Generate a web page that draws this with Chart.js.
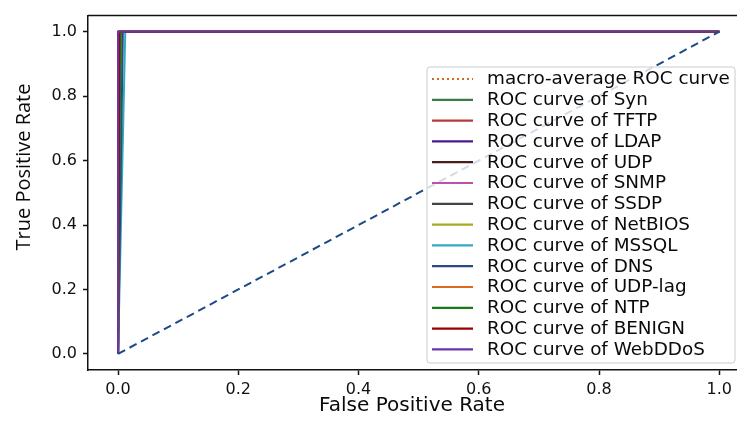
<!DOCTYPE html>
<html>
<head>
<meta charset="utf-8">
<script src="https://cdn.jsdelivr.net/npm/chart.js@4.4.0/dist/chart.umd.min.js"></script>
<style>
  html, body { margin: 0; padding: 0; background: #fff; }
  #wrap { width: 737px; height: 421px; position: relative; }
</style>
</head>
<body>
<div id="wrap"><canvas id="rocChart"></canvas></div>
<script>
// ROC curves per class
const classNames = ['Syn', 'TFTP', 'LDAP', 'UDP', 'SNMP', 'SSDP', 'NetBIOS', 'MSSQL', 'DNS', 'UDP-lag', 'NTP', 'BENIGN', 'WebDDoS'];
const classColors = ['#3a7d44', '#b83a3a', '#4b1a8a', '#4a1c1c', '#c050a8', '#444444', '#aaaa22', '#30aac4', '#2a4a80', '#e06820', '#1a7a1a', '#990000', '#6a35a8'];
const classFpr = [
    [0, 0.005, 1],
    [0, 0.002, 1],
    [0, 0.0, 1],
    [0, 0.002, 1],
    [0, 0.002, 1],
    [0, 0.002, 1],
    [0, 0.004, 1],
    [0, 0.012, 1],
    [0, 0.008, 1],
    [0, 0.003, 1],
    [0, 0.004, 1],
    [0, 0.002, 1],
    [0, 0.0, 1]
];
const classTpr = [
    [0, 1, 1], [0, 1, 1], [0, 1, 1], [0, 1, 1], [0, 1, 1], [0, 1, 1], [0, 1, 1],
    [0, 1, 1], [0, 1, 1], [0, 1, 1], [0, 1, 1], [0, 1, 1], [0, 1, 1]
];
const macroFpr = [0, 0.004, 1];
const macroTpr = [0, 1, 1];
const chanceFpr = [0, 1];
const chanceTpr = [0, 1];
const xTicks = [0, 0.2, 0.4, 0.6, 0.8, 1.0];
const yTicks = [0, 0.2, 0.4, 0.6, 0.8, 1.0];

function toPoints(xs, ys) {
    return xs.map((x, i) => ({ x: x, y: ys[i] }));
}

const datasets = [];
datasets.push({
    label: 'macro-average ROC curve',
    data: toPoints(macroFpr, macroTpr),
    borderColor: '#d2691e',
    borderDash: [2, 3],
    borderWidth: 2,
    order: 20
});
classNames.forEach((name, i) => {
    datasets.push({
        label: 'ROC curve of ' + name,
        data: toPoints(classFpr[i], classTpr[i]),
        borderColor: classColors[i],
        borderWidth: 2,
        order: 19 - i
    });
});
datasets.push({
    label: 'chance',
    data: toPoints(chanceFpr, chanceTpr),
    borderColor: '#1c4a86',
    borderDash: [8, 5],
    borderWidth: 2,
    order: 0,
    hideInLegend: true
});

// top frame line, y label, matplotlib-style legend box
const framePlugin = {
    id: 'frame',
    afterDraw(chart) {
        const c = chart.ctx;
        const a = chart.chartArea;
        c.save();
        c.strokeStyle = '#111';
        c.lineWidth = 1.5;
        c.beginPath();
        c.moveTo(a.left, a.top);
        c.lineTo(a.right + 5, a.top);
        c.stroke();

        // y axis label (sits a bit above the axes centre in the original)
        c.save();
        c.translate(24, 167);
        c.rotate(-Math.PI / 2);
        c.font = '20px "Open Sans"';
        c.fillStyle = '#0a0a0a';
        c.textAlign = 'center';
        c.textBaseline = 'middle';
        c.fillText('True Positive Rate', 0, 0);
        c.restore();

        // legend
        const items = chart.data.datasets.filter(d => !d.hideInLegend);
        const bx = 427, by = 67, bw = 308, bh = 296, rowH = 20.8;
        c.fillStyle = 'rgba(255,255,255,0.8)';
        c.strokeStyle = '#cccccc';
        c.lineWidth = 1;
        c.beginPath();
        c.roundRect(bx, by, bw, bh, 3);
        c.fill();
        c.stroke();
        c.font = '17px "DejaVu Sans"';
        c.textBaseline = 'middle';
        items.forEach((d, i) => {
            const y = by + 12 + i * rowH;
            c.strokeStyle = d.borderColor;
            c.lineWidth = 2.2;
            c.setLineDash(d.borderDash || []);
            c.beginPath();
            c.moveTo(432, y);
            c.lineTo(473, y);
            c.stroke();
            c.setLineDash([]);
            c.fillStyle = '#0a0a0a';
            c.save();
            c.translate(487, y + 1);
            c.scale(1.08, 1);
            c.fillText(d.label, 0, 0);
            c.restore();
        });
        c.restore();
    }
};

const ctx = document.getElementById('rocChart').getContext('2d');
const rocChart = new Chart(ctx, {
    type: 'line',
    data: { datasets: datasets },
    options: {
        responsive: true,
        maintainAspectRatio: false,
        devicePixelRatio: 1,
        animation: false,
        layout: { padding: { top: 3, right: 0, left: 0, bottom: 0 } },
        elements: { point: { radius: 0 }, line: { tension: 0 } },
        plugins: {
            legend: { display: false },
            tooltip: { enabled: false }
        },
        scales: {
            x: {
                type: 'linear',
                min: -0.05,
                max: 1.028,
                afterBuildTicks: (scale) => { scale.ticks = xTicks.map(v => ({ value: v })); },
                afterFit: (scale) => { scale.height = 51; },
                ticks: {
                    callback: (v) => v.toFixed(1),
                    color: '#111',
                    padding: 5,
                    maxRotation: 0,
                    font: { family: 'DejaVu Sans', size: 16 }
                },
                grid: { drawOnChartArea: false, drawTicks: true, tickLength: 5, color: '#111', tickWidth: 1.5 },
                border: { display: true, color: '#111', width: 1.5 },
                title: {
                    display: true,
                    text: 'False Positive Rate',
                    color: '#0a0a0a',
                    padding: { top: 0, bottom: 3 },
                    font: { family: 'DejaVu Sans', size: 20 }
                }
            },
            y: {
                type: 'linear',
                min: -0.05,
                max: 1.05,
                afterBuildTicks: (scale) => { scale.ticks = yTicks.map(v => ({ value: v })); },
                afterFit: (scale) => { scale.width = 88; },
                ticks: {
                    callback: (v) => v.toFixed(1),
                    color: '#111',
                    padding: 6,
                    font: { family: 'DejaVu Sans', size: 16 }
                },
                grid: { drawOnChartArea: false, drawTicks: true, tickLength: 5, color: '#111', tickWidth: 1.5 },
                border: { display: true, color: '#111', width: 1.5 },
                title: { display: false }
            }
        }
    },
    plugins: [framePlugin]
});
</script>
</body>
</html>
